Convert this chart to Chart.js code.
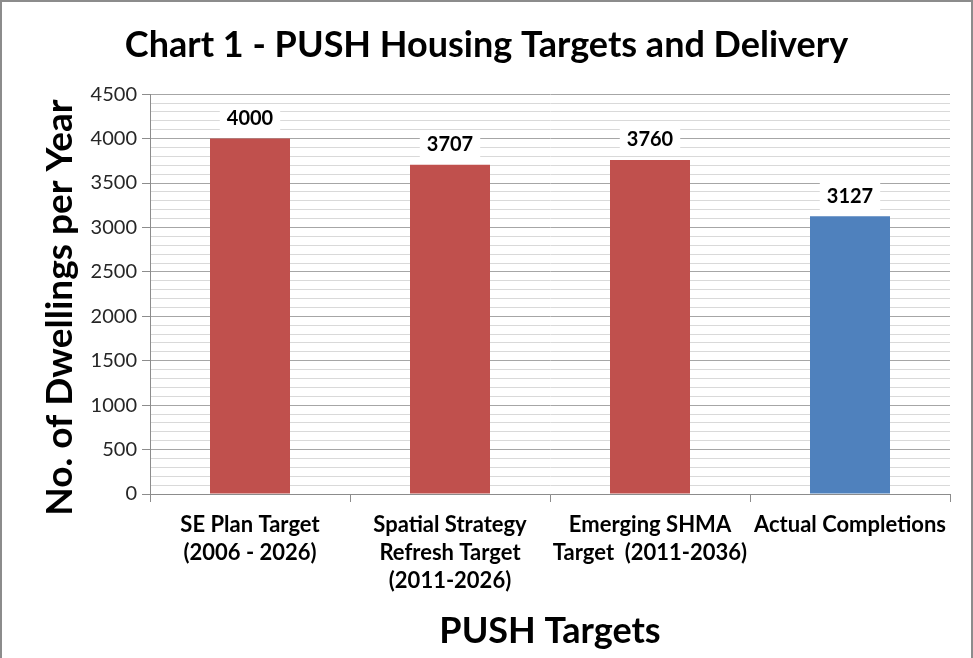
<!DOCTYPE html>
<html>
<head>
<meta charset="utf-8">
<script src="https://cdn.jsdelivr.net/npm/chart.js@4.4.0/dist/chart.umd.min.js"></script>
<style>
  html, body { margin: 0; padding: 0; background: #fff; }
  #frame {
    position: absolute; left: 0; top: 0;
    width: 969px; height: 656px;
    border-left: 2px solid #8c8c8c;
    border-top: 2px solid #8c8c8c;
    border-right: 2px solid #8c8c8c;
  }
</style>
</head>
<body>
<div id="frame"><canvas id="pushChart"></canvas></div>
<script>
const categories = [
  ['SE Plan Target', '(2006 - 2026)'],
  ['Spatial Strategy', 'Refresh Target', '(2011-2026)'],
  ['Emerging SHMA', 'Target  (2011-2036)'],
  'Actual Completions'
];
const dwellings = [4000, 3707, 3760, 3127];
const barColours = ['#C0504D', '#C0504D', '#C0504D', '#4F81BD'];
const yMax = 4500;

const FONT = 'Lato, "Open Sans", sans-serif';

// value boxes above each bar, white behind the number
const valueLabels = {
  id: 'valueLabels',
  afterDatasetsDraw(chart) {
    const ctx = chart.ctx;
    const meta = chart.getDatasetMeta(0);
    ctx.save();
    ctx.font = 'bold 20px ' + FONT;
    ctx.textAlign = 'center';
    ctx.textBaseline = 'middle';
    meta.data.forEach((bar, i) => {
      const txt = String(dwellings[i]);
      const w = ctx.measureText(txt).width + 14;
      const h = 28;
      const cy = bar.y - 20;
      ctx.fillStyle = '#fff';
      ctx.fillRect(bar.x - w / 2, cy - h / 2, w, h);
      ctx.fillStyle = '#000';
      ctx.fillText(txt, bar.x, cy);
    });
    ctx.restore();
  }
};

const ctx = document.getElementById('pushChart').getContext('2d');
const chart = new Chart(ctx, {
  type: 'bar',
  data: {
    labels: categories,
    datasets: [{
      label: 'Dwellings',
      data: dwellings,
      backgroundColor: barColours,
      borderWidth: 0,
      barPercentage: 0.4,
      categoryPercentage: 1
    }]
  },
  options: {
    responsive: true,
    maintainAspectRatio: false,
    animation: false,
    layout: { padding: 0 },
    plugins: {
      legend: { display: false },
      tooltip: { enabled: false },
      title: {
        display: true,
        text: 'Chart 1 - PUSH Housing Targets and Delivery',
        color: '#000',
        font: { family: FONT, size: 36, weight: 'bold' },
        padding: { top: 22, bottom: 27 }
      }
    },
    scales: {
      x: {
        afterFit(scale) { scale.height = 164; },
        grid: {
          offset: true,
          drawOnChartArea: false,
          tickLength: 8,
          color: '#8c8c8c'
        },
        border: { color: '#8c8c8c' },
        ticks: {
          color: '#000',
          padding: 9,
          maxRotation: 0,
          autoSkip: false,
          font: { family: FONT, size: 22, weight: 'bold', lineHeight: 1.27 }
        },
        title: {
          display: true,
          text: 'PUSH Targets',
          color: '#000',
          font: { family: FONT, size: 36, weight: 'bold' },
          padding: { top: 0, bottom: 5 }
        }
      },
      y: {
        min: 0,
        max: yMax,
        afterFit(scale) { scale.width = 148; },
        grid: {
          tickLength: 8,
          color: c => (c.tick && c.tick.value % 500 === 0) ? '#a6a6a6' : '#d9d9d9',
          tickColor: c => (c.tick && c.tick.value % 500 === 0) ? '#8c8c8c' : 'rgba(0,0,0,0)'
        },
        border: { color: '#8c8c8c' },
        ticks: {
          stepSize: 100,
          autoSkip: false,
          color: '#262626',
          padding: 5,
          font: { family: FONT, size: 20 },
          callback: v => (v % 500 === 0 ? v : '')
        },
        title: {
          display: true,
          text: 'No. of Dwellings per Year   ',
          color: '#000',
          font: { family: FONT, size: 37, weight: 'bold' },
          padding: { top: 36, bottom: 0 }
        }
      },
      // empty right-hand strip so the plot stops short of the frame
      yRight: {
        position: 'right',
        afterFit(scale) { scale.width = 21; },
        grid: { display: false },
        border: { display: false },
        ticks: { display: false }
      }
    }
  },
  plugins: [valueLabels]
});
</script>
</body>
</html>
